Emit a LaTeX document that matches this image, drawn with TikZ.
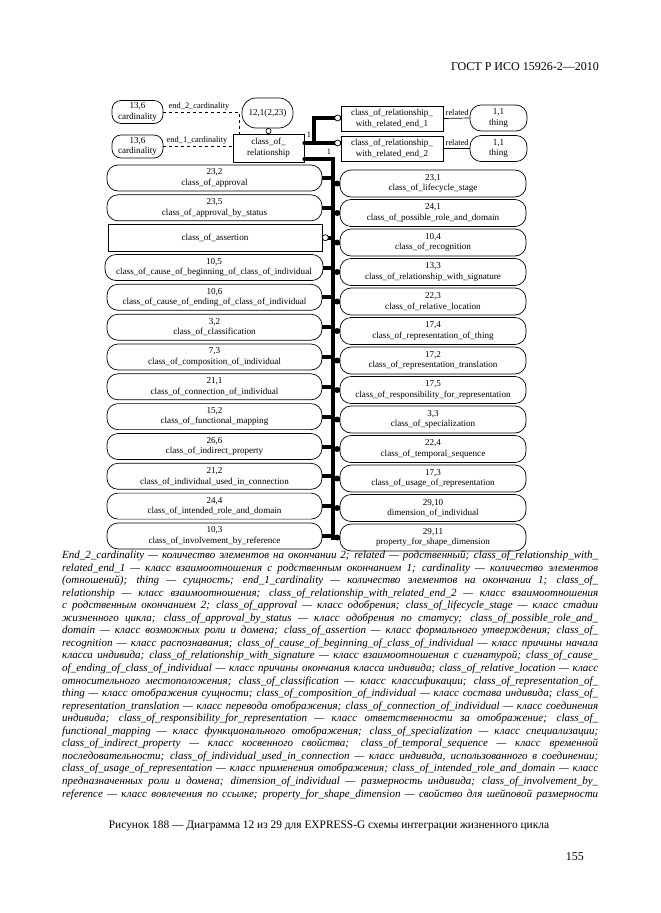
\documentclass[tikz,border=0pt]{standalone}
\usepackage{graphicx}
\usepackage{fontspec}
\setmainfont{Liberation Serif}
\newsavebox\lgbox
\begin{document}
\begin{tikzpicture}[x=1pt,y=-1pt,
  every node/.style={font=\fontsize{9.1}{10.6}\selectfont, align=center, inner sep=0pt},
  refbox/.style={draw, line width=0.7pt, rounded corners=11pt, minimum width=215pt, minimum height=26pt},
  rrefbox/.style={draw, line width=0.7pt, rounded corners=11pt, minimum width=186pt, minimum height=27pt},
  entbox/.style={draw, line width=0.7pt},
  cardbox/.style={draw, line width=0.7pt, rounded corners=9pt, minimum width=51pt, minimum height=23pt},
  smalllab/.style={font=\fontsize{8.4}{9}\selectfont},
  heavy/.style={line width=4pt},
  thin/.style={line width=0.7pt},
  legend/.style={anchor=base west, align=left},
  opencirc/.style={draw, fill=white, line width=0.7pt}
]
\useasboundingbox (0,0) rectangle (661,913);
\fill[white] (0,0) rectangle (661,913);

% header
\node[anchor=base east, font=\fontsize{12}{14}\selectfont] (hdr) at (599,70) {ГОСТ Р ИСО 15926-2—2010};

% top part
\node[cardbox] (c2) at (137.5,112) {13,6\\cardinality};
\node[cardbox] (c1) at (137.5,146.5) {13,6\\cardinality};
\node[cardbox, minimum height=30pt, rounded corners=14pt] (pg) at (267.5,113) {12,1(2,23)};
\node[entbox, minimum width=71pt, minimum height=28pt] (cor) at (268.5,148) {class\_of\_\\relationship};
\node[entbox, minimum width=102pt, minimum height=25pt] (e1) at (392,118.5) {class\_of\_relationship\_\\with\_related\_end\_1};
\node[entbox, minimum width=102pt, minimum height=25pt] (e2) at (392,148.5) {class\_of\_relationship\_\\with\_related\_end\_2};
\node[cardbox, minimum width=57pt, minimum height=26pt, rounded corners=11pt] (t1) at (498.5,118) {1,1\\thing};
\node[cardbox, minimum width=57pt, minimum height=26pt, rounded corners=11pt] (t2) at (498.5,148.5) {1,1\\thing};

\draw[thin, dashed] (c2.east) -| ([xshift=-29.5pt]cor.north);
\draw[thin, dashed] (c1.east) -- (c1.east -| cor.west);
\node[smalllab] (l2) at (199,106) {end\_2\_cardinality};
\node[smalllab] (l1) at (197,140.5) {end\_1\_cardinality};

\draw[thin] (pg.south) -- (cor.north);
\draw[opencirc] ([yshift=2.6pt]cor.north) circle (2.6pt);

\draw[thin] (e1.east) -- (t1.west);
\draw[thin] (e2.east) -- (t2.west);
\node[smalllab, anchor=south west] (r1) at (445.5,116) {related};
\node[smalllab, anchor=south west] (r2) at (445.5,146) {related};

% thick supertype links
\coordinate (k1) at ([yshift=5pt]cor.east);
\coordinate (k2) at ([yshift=-11pt]cor.east);
\coordinate (bustop) at (333,159);
\coordinate (busbot) at (333,540);
\draw[heavy] (k1) -- (k1 -| e2.west);
\draw[heavy] ([xshift=10pt]k1) |- ([yshift=0.5pt]e1.west);
\draw[opencirc] ([xshift=-3pt]k1 -| e2.west) circle (3pt);
\draw[opencirc] ([xshift=-3pt,yshift=0.5pt]e1.west) circle (3pt);
\fill (k1) circle (2pt);
\fill (k2) circle (2pt);
\draw[heavy] (k2) -- (bustop);
\draw[line width=4.5pt] ([yshift=2pt]bustop) -- (busbot);
\node[smalllab, anchor=south] (one1) at (309,138) {1};
\node[smalllab, anchor=south] (one2) at (329,155) {1};

% left column
\node[refbox] (L0) at (214.5,178) {23,2\\class\_of\_approval};
\node[refbox] (L1) at (214.5,207.8) {23,5\\class\_of\_approval\_by\_status};
\node[entbox, minimum width=214pt, minimum height=27pt] (L2) at (215,237.7) {class\_of\_assertion};
\node[refbox, minimum width=218pt] (L3) at (214,267.5) {10,5\\class\_of\_cause\_of\_beginning\_of\_class\_of\_individual};
\node[refbox] (L4) at (214.5,297.3) {10,6\\class\_of\_cause\_of\_ending\_of\_class\_of\_individual};
\node[refbox] (L5) at (214.5,327.2) {3,2\\class\_of\_classification};
\node[refbox] (L6) at (214.5,357) {7,3\\class\_of\_composition\_of\_individual};
\node[refbox] (L7) at (214.5,386.8) {21,1\\class\_of\_connection\_of\_individual};
\node[refbox] (L8) at (214.5,416.6) {15,2\\class\_of\_functional\_mapping};
\node[refbox] (L9) at (214.5,446.5) {26,6\\class\_of\_indirect\_property};
\node[refbox] (L10) at (214.5,476.3) {21,2\\class\_of\_individual\_used\_in\_connection};
\node[refbox] (L11) at (214.5,506.1) {24,4\\class\_of\_intended\_role\_and\_domain};
\node[refbox] (L12) at (214.5,536) {10,3\\class\_of\_involvement\_by\_reference};

\foreach \n in {L0,L1,L3,L4,L5,L6,L7,L8,L9,L10,L11,L12}
  \draw[heavy] (\n.east) -- (\n.east -| bustop);
\draw[heavy] ([xshift=5pt]L2.east) -- (L2.east -| bustop);
\draw[opencirc] ([xshift=3pt]L2.east) circle (3pt);

% right column
\node[rrefbox] (R0) at (433,183.5) {23,1\\class\_of\_lifecycle\_stage};
\node[rrefbox] (R1) at (433,213) {24,1\\class\_of\_possible\_role\_and\_domain};
\node[rrefbox] (R2) at (433,242.5) {10,4\\class\_of\_recognition};
\node[rrefbox] (R3) at (433,272) {13,3\\class\_of\_relationship\_with\_signature};
\node[rrefbox] (R4) at (433,301.5) {22,3\\class\_of\_relative\_location};
\node[rrefbox] (R5) at (433,331) {17,4\\class\_of\_representation\_of\_thing};
\node[rrefbox] (R6) at (433,360.5) {17,2\\class\_of\_representation\_translation};
\node[rrefbox] (R7) at (433,390) {17,5\\class\_of\_responsibility\_for\_representation};
\node[rrefbox] (R8) at (433,419.5) {3,3\\class\_of\_specialization};
\node[rrefbox] (R9) at (433,449) {22,4\\class\_of\_temporal\_sequence};
\node[rrefbox] (R10) at (433,478.5) {17,3\\class\_of\_usage\_of\_representation};
\node[rrefbox] (R11) at (433,508) {29,10\\dimension\_of\_individual};
\node[rrefbox] (R12) at (433,537.5) {29,11\\property\_for\_shape\_dimension};

\foreach \n in {R0,R1,R2,R3,R4,R5,R6,R7,R8,R9,R10,R11,R12}{
  \draw[heavy] (\n.west -| bustop) -- (\n.west);
  \fill ([xshift=-2.5pt]\n.west) circle (3pt);
}

% legend: each line spread to the full width, or squeezed if too long
\newcommand\lgl[2]{%
  \sbox\lgbox{\fontsize{11}{12}\selectfont\itshape #2}%
  \ifdim\wd\lgbox>536pt
    \node[legend] at (62,#1) {\resizebox{536pt}{\height}{\usebox\lgbox}};
  \else
    \node[legend] at (62,#1) {\fontsize{11}{12}\selectfont\itshape\makebox[536pt][s]{#2}};
  \fi}
\lgl{558.5}{End\_2\_cardinality — количество элементов на окончании 2; related — родственный; class\_of\_relationship\_with\_}
\lgl{571.05}{related\_end\_1 — класс взаимоотношения с родственным окончанием 1; cardinality — количество элементов}
\lgl{583.6}{(отношений); thing — сущность; end\_1\_cardinality — количество элементов на окончании 1; class\_of\_}
\lgl{596.15}{relationship — класс взаимоотношения; class\_of\_relationship\_with\_related\_end\_2 — класс взаимоотношения}
\lgl{608.7}{с родственным окончанием 2; class\_of\_approval — класс одобрения; class\_of\_lifecycle\_stage — класс стадии}
\lgl{621.25}{жизненного цикла; class\_of\_approval\_by\_status — класс одобрения по статусу; class\_of\_possible\_role\_and\_}
\lgl{633.8}{domain — класс возможных роли и домена; class\_of\_assertion — класс формального утверждения; class\_of\_}
\lgl{646.35}{recognition — класс распознавания; class\_of\_cause\_of\_beginning\_of\_class\_of\_individual — класс причины начала}
\lgl{658.9}{класса индивида; class\_of\_relationship\_with\_signature — класс взаимоотношения с сигнатурой; class\_of\_cause\_}
\lgl{671.45}{of\_ending\_of\_class\_of\_individual — класс причины окончания класса индивида; class\_of\_relative\_location — класс}
\lgl{684}{относительного местоположения; class\_of\_classification — класс классификации; class\_of\_representation\_of\_}
\lgl{696.55}{thing — класс отображения сущности; class\_of\_composition\_of\_individual — класс состава индивида; class\_of\_}
\lgl{709.1}{representation\_translation — класс перевода отображения; class\_of\_connection\_of\_individual — класс соединения}
\lgl{721.65}{индивида; class\_of\_responsibility\_for\_representation — класс ответственности за отображение; class\_of\_}
\lgl{734.2}{functional\_mapping — класс функционального отображения; class\_of\_specialization — класс специализации;}
\lgl{746.75}{class\_of\_indirect\_property — класс косвенного свойства; class\_of\_temporal\_sequence — класс временной}
\lgl{759.3}{последовательности; class\_of\_individual\_used\_in\_connection — класс индивида, использованного в соединении;}
\lgl{771.85}{class\_of\_usage\_of\_representation — класс применения отображения; class\_of\_intended\_role\_and\_domain — класс}
\lgl{784.4}{предназначенных роли и домена; dimension\_of\_individual — размерность индивида; class\_of\_involvement\_by\_}
\lgl{797}{reference — класс вовлечения по ссылке; property\_for\_shape\_dimension — свойство для шейповой размерности}

% caption and page number
\node[anchor=base, font=\fontsize{11.4}{13}\selectfont] (cap) at (329,828) {Рисунок 188 — Диаграмма 12 из 29 для EXPRESS-G схемы интеграции жизненного цикла};
\node[anchor=base east, font=\fontsize{12}{14}\selectfont] (pno) at (584,860) {155};
\end{tikzpicture}
\end{document}
